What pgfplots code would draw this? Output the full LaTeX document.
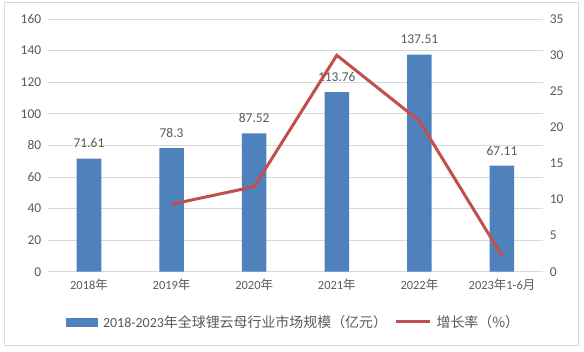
\documentclass[border=0pt]{standalone}
\usepackage{pgfplots}
\pgfplotsset{compat=1.18}
\usepackage{fontspec}
\setmainfont{Carlito}
\newfontfamily\cjk{Noto Sans CJK SC}
\newcommand{\cj}[1]{{\cjk #1}}
\definecolor{barblue}{HTML}{4F81BD}
\definecolor{linered}{HTML}{C0504D}
\definecolor{txt}{HTML}{595959}
\definecolor{gridc}{HTML}{D9D9D9}
\pgfplotsset{/pgf/number format/assume math mode=true}
\begin{document}
\begin{tikzpicture}
\path (0bp,0bp) rectangle (584bp,352bp);
\draw[gridc, line width=0.8bp] (4.5bp,6.5bp) rectangle (578.5bp,350bp);
\begin{axis}[
  at={(47.7bp,80.3bp)}, anchor=south west,
  width=495.6bp, height=252.7bp, scale only axis,
  xmin=-0.5, xmax=5.5, ymin=0, ymax=160,
  ytick={0,20,...,160},
  xtick={0,...,5},
  xticklabels={2018\cj{年},2019\cj{年},2020\cj{年},2021\cj{年},2022\cj{年},2023\cj{年}1-6\cj{月}},
  axis x line*=bottom, axis y line*=left,
  x axis line style={draw=gridc, line width=0.8bp, -},
  y axis line style={draw=none},
  major tick style={draw=none},
  ymajorgrids, grid style={gridc, line width=0.8bp},
  yticklabel style={font=\fontsize{13.5}{15}\selectfont, text=txt, xshift=-3bp},
  xticklabel style={font=\fontsize{12.5}{15}\selectfont, text=txt, yshift=-4bp},
  legend style={at={(0.0369,-0.199)}, anchor=west, draw=none, fill=none,
    inner sep=0pt, nodes={inner sep=0pt},
    legend columns=2, font=\fontsize{14}{16}\selectfont, text=txt,
    /tikz/every odd column/.append style={column sep=5.5bp},
    /tikz/every even column/.append style={column sep=7bp}},
  legend cell align=left,
]
\addplot[ybar, bar width=24.5bp, fill=barblue, draw=none,
  nodes near coords={\pgfmathprintnumber[fixed,precision=2]{\pgfplotspointmeta}},
  nodes near coords style={font=\fontsize{13.5}{15}\selectfont, text=txt, anchor=south, yshift=7bp},
  forget plot]
  coordinates {(0,71.61) (1,78.3) (2,87.52) (3,113.76) (4,137.51) (5,67.11)};
\addlegendimage{legend image code/.code={\fill[barblue] (0bp,-4bp) rectangle (31bp,4bp);}}
\addlegendentry{2018-2023\cj{年全球锂云母行业市场规模（亿元）}}
\addlegendimage{legend image code/.code={\draw[linered, line width=3bp] (0bp,0bp) -- (34bp,0bp);}}
\addlegendentry{\cj{增长率（\%）}}
\end{axis}
\begin{axis}[
  at={(47.7bp,80.3bp)}, anchor=south west,
  width=495.6bp, height=252.7bp, scale only axis,
  xmin=-0.5, xmax=5.5, ymin=0, ymax=35,
  ytick={0,5,...,35},
  axis x line=none, axis y line*=right,
  y axis line style={draw=none},
  major tick style={draw=none},
  yticklabel style={font=\fontsize{13.5}{15}\selectfont, text=txt, xshift=3bp},
]
\addplot[linered, line width=3bp, mark=none]
  coordinates {(1,9.34) (2,11.78) (3,29.98) (4,20.88) (5,2.2)};
\end{axis}
\end{tikzpicture}
\end{document}
